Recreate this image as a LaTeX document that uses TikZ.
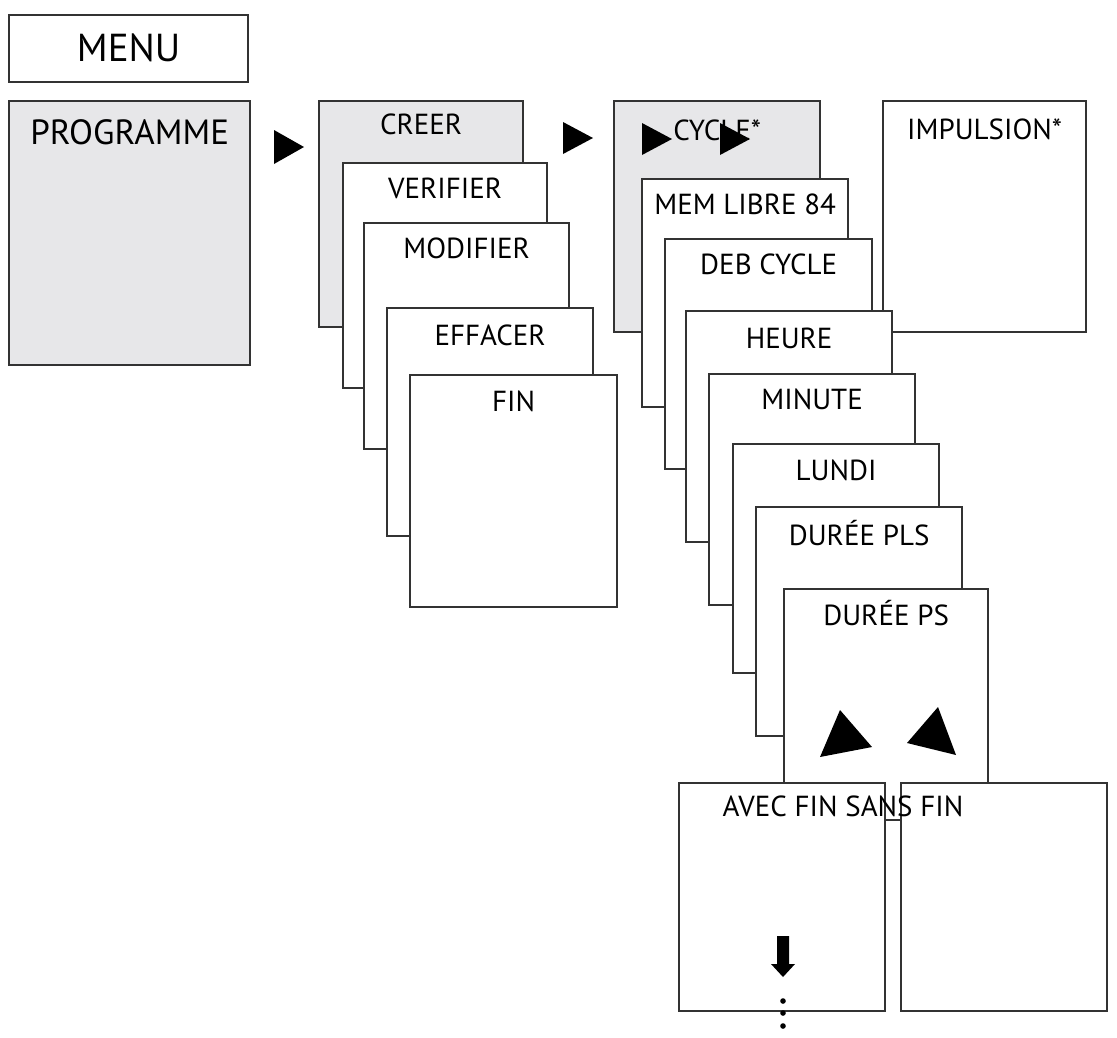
\documentclass[tikz,border=0pt]{standalone}
\usepackage{fontspec}
\setmainfont{PT Sans}
\definecolor{edge}{HTML}{333333}
\definecolor{shade}{HTML}{E7E7E9}
\tikzset{
  box/.style={draw=edge, line width=2.3pt, fill=white, rectangle, inner sep=0pt, anchor=north west},
  grey/.style={box, fill=shade},
  lbl/.style={anchor=base, inner sep=0pt, text=black, font=\fontsize{29}{30}\selectfont},
  tri/.style={fill=black, draw=none},
}
\newcommand{\mybox}[6]{% style, name, x, y, w, h
  \node[#1, minimum width=#5pt, minimum height=#6pt] (#2) at (#3,#4) {};}
\begin{document}
\begin{tikzpicture}[x=1pt,y=-1pt]
\useasboundingbox (0,0) rectangle (1117,1037);
% left column
\mybox{box}{menu}{8}{14}{239}{67}
\node[lbl, font=\fontsize{39}{40}\selectfont] at ([yshift=-47pt]menu.north) {MENU};
\mybox{grey}{prog}{8}{100}{241}{264}
\node[lbl, font=\fontsize{35}{36}\selectfont] at ([yshift=-44pt]prog.north) {PROGRAMME};
% second column
\mybox{grey}{creer}{318}{100}{204}{226}
\node[lbl] at ([yshift=-34pt]creer.north) {CREER};
\mybox{box}{verif}{342}{162}{204}{225}
\node[lbl] at ([yshift=-36pt]verif.north) {VERIFIER};
\mybox{box}{modif}{363}{222}{205}{226}
\node[lbl] at ([yshift=-36pt]modif.north) {MODIFIER};
\mybox{box}{effac}{386}{307}{206}{228}
\node[lbl] at ([yshift=-38pt]effac.north) {EFFACER};
\mybox{box}{fin}{409}{374}{207}{232}
\node[lbl] at ([yshift=-37pt]fin.north) {FIN};
% third column
\mybox{grey}{cycle}{613}{100}{206}{231}
\node[lbl] at ([yshift=-40pt]cycle.north) {CYCLE*};
\mybox{box}{impul}{882}{100}{203}{231}
\node[lbl] at ([yshift=-39pt]impul.north) {IMPULSION*};
\mybox{box}{mem}{641}{178}{206}{228}
\node[lbl] at ([yshift=-36pt]mem.north) {MEM LIBRE 84};
\mybox{box}{deb}{664}{238}{207}{230}
\node[lbl] at ([yshift=-36pt]deb.north) {DEB CYCLE};
\mybox{box}{heure}{685}{310}{206}{231}
\node[lbl] at ([yshift=-38pt]heure.north) {HEURE};
\mybox{box}{minute}{708}{373}{206}{231}
\node[lbl] at ([yshift=-36pt]minute.north) {MINUTE};
\mybox{box}{lundi}{732}{443}{206}{229}
\node[lbl] at ([yshift=-37pt]lundi.north) {LUNDI};
\mybox{box}{dpls}{755}{506}{206}{229}
\node[lbl] at ([yshift=-39pt]dpls.north) {DURÉE PLS};
\mybox{box}{dps}{783}{588}{204}{231}
\node[lbl] at ([yshift=-37pt]dps.north) {DURÉE PS};
% bottom boxes
\mybox{box}{avec}{678}{782}{206}{228}
\mybox{box}{sans}{900}{782}{206}{228}
\node[lbl] (avecsans) at (843,816) {AVEC FIN SANS FIN};
% arrow triangles
\fill[tri] (274,130) -- (304,147) -- (274,164) -- cycle;
\fill[tri] (563,122) -- (593,138) -- (563,154) -- cycle;
\fill[tri] (642,123) -- (672,139) -- (642,155) -- cycle;
\fill[tri] (720,123) -- (750,139) -- (720,155) -- cycle;
\fill[tri] (840,710) -- (872,747) -- (820,757) -- cycle;
\fill[tri] (938,707) -- (956,755) -- (907,743) -- cycle;
% down arrow and dots
\fill[tri] (777,936) -- (789,936) -- (789,964) -- (795,964) -- (783,977) -- (771,964) -- (777,964) -- cycle;
\fill (783,1001) circle (2.8);
\fill (783,1013) circle (2.8);
\fill (783,1026) circle (2.8);
\end{tikzpicture}
\end{document}
